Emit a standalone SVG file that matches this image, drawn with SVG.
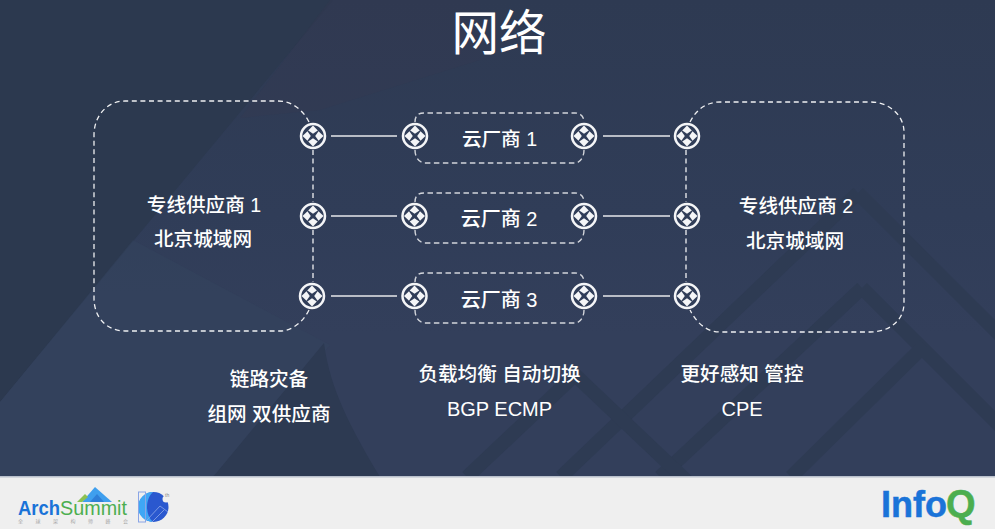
<svg xmlns="http://www.w3.org/2000/svg" width="995" height="529" viewBox="0 0 995 529">
<style>
.t{font-family:"Liberation Sans","Noto Sans CJK SC",sans-serif;fill:#fff;text-anchor:middle;font-size:19.6px;font-weight:500}
.b{fill:none;stroke:#fff;stroke-width:1.3;stroke-dasharray:5 3.6;stroke-opacity:.92}
.k{fill:none;stroke:#fff;stroke-width:1.4;stroke-dasharray:5.500 3.500;stroke-opacity:.78}
.c{fill:none;stroke:#fff;stroke-width:1.3;stroke-opacity:.88}
.bg{fill:none;stroke:#2e3b53;stroke-width:14}
.f{font-family:"Liberation Sans","Noto Sans CJK SC",sans-serif}
</style>
<defs>
<linearGradient id="g" x1="0" y1="0" x2="0" y2="1"><stop offset="0" stop-color="#2e3a52"/><stop offset=".45" stop-color="#303d58"/><stop offset=".7" stop-color="#333f5b"/><stop offset="1" stop-color="#333f5b"/></linearGradient>
<g id="r">
<circle r="12" fill="#303d58" stroke="#f4f5f7" stroke-width="2.500"/>
<g fill="#f4f5f7">
<path d="M0-10.500 4.800-5.500 2.500-4 0-2.200-2.500-4-4.800-5.500Z"/>
<path d="M0 10.500 4.800 5.500 2.500 4 0 2.200-2.500 4-4.800 5.500Z"/>
<path d="M-10.500 0-5.500-4.800-4-2.500-2.200 0-4 2.500-5.500 4.800Z"/>
<path d="M10.500 0 5.500-4.800 4-2.500 2.200 0 4 2.500 5.500 4.800Z"/>
</g>
</g>
</defs>
<rect width="995" height="477" fill="url(#g)"/>
<g id="background">
<path d="M0 0H333L0 402Z" fill="#2c394f"/>
<path d="M0 402 133 240 330 345 213 477H0Z" fill="#33445e" opacity=".5"/>
<path d="M330 0H480V60L320 110 240 118Z" fill="#373850" opacity=".25"/>
<path d="M324 343 213 477H380C352 430 330 390 324 343Z" fill="#2d3a52"/>
<path class="bg" d="M858 193 561 477M858 193 1000 335"/>
<path class="bg" d="M862 288 660 477M862 288 1000 426"/>
<path class="bg" d="M925 345 791 477"/>
<path class="bg" d="M467 477 575 375 690 484"/>
</g>
<g id="connectors">
<path class="c" d="M331 136H397M331 216H397M331 296H397M603 136H670M603 216H670M603 296H670"/>
<path class="b" d="M313 150V202M313 230V282M686 150V202M686 230V282"/>
</g>
<g id="provider-1">
<path class="b" d="M309 122C303 110 292 101 278 101H125C107 101 94 116 94 135V298C94 318 107 331 125 331H280C292 331 303 322 309 310"/>
<text class="t" x="204" y="212">专线供应商 1</text>
<text class="t" x="203" y="246">北京城域网</text>
</g>
<g id="provider-2">
<path class="b" d="M690 122C696 110 706 102 720 102H870C890 102 904 116 904 132V303C904 320 890 332 870 332H720C706 332 696 322 690 310"/>
<text class="t" x="796" y="213">专线供应商 2</text>
<text class="t" x="795" y="248">北京城域网</text>
</g>
<g id="cloud-1">
<path class="k" d="M415 122C415 116 418 113 424 113H575C580 113 584 116 584 122M415 150C415 157 419 163 425 163H575C580 163 584 157 584 150"/>
<text class="t" x="499.500" y="146">云厂商 1</text>
</g>
<g id="cloud-2">
<path class="k" d="M415 202C415 196 418 193 424 193H575C580 193 584 196 584 202M415 230C415 237 419 243 425 243H575C580 243 584 237 584 230"/>
<text class="t" x="499" y="226" style="font-size:20px">云厂商 2</text>
</g>
<g id="cloud-3">
<path class="k" d="M415 282C415 276 418 273 424 273H575C580 273 584 276 584 282M415 310C415 317 419 323 425 323H575C580 323 584 317 584 310"/>
<text class="t" x="499" y="307" style="font-size:20px">云厂商 3</text>
</g>
<g id="routers">
<use href="#r" x="313" y="136"/><use href="#r" x="313" y="216"/><use href="#r" x="312" y="296"/>
<use href="#r" x="415" y="136"/><use href="#r" x="414.500" y="216"/><use href="#r" x="414.500" y="296"/>
<use href="#r" x="584" y="136"/><use href="#r" x="584" y="216"/><use href="#r" x="584" y="296"/>
<use href="#r" x="687" y="136"/><use href="#r" x="687" y="216"/><use href="#r" x="687" y="296"/>
</g>
<text class="t" x="499" y="50" style="font-size:47.500px;font-weight:400">网络</text>
<g id="captions">
<text class="t" x="269" y="386">链路灾备</text>
<text class="t" x="269" y="421">组网 双供应商</text>
<text class="t" x="499.500" y="381">负载均衡 自动切换</text>
<text class="t" x="499.500" y="416" style="font-size:20px;font-weight:400">BGP ECMP</text>
<text class="t" x="742" y="381">更好感知 管控</text>
<text class="t" x="742" y="416" style="font-size:20px;font-weight:400">CPE</text>
</g>
<g id="footer">
<rect y="477" width="995" height="52" fill="#efefef"/>
<rect y="476" width="995" height="1.500" fill="#b9c0cc"/>
<path d="M82 502 95 487 112 502Z" fill="#3f9fee"/>
<path d="M90 502 97 494 104 502Z" fill="#2f7fd8"/>
<path d="M77 502 85 494 88 497 82 502Z" fill="#8cc152"/>
<text class="f" x="18" y="515" style="font-size:20px;font-weight:700" fill="#1a73d8" textLength="42" lengthAdjust="spacingAndGlyphs">Arch</text>
<text class="f" x="60" y="515" style="font-size:20px" fill="#4cae4f" textLength="67" lengthAdjust="spacingAndGlyphs">Summit</text>
<text class="f" x="18" y="522.500" style="font-size:5px" fill="#a8a8a8" textLength="110">全球架构师峰会</text>
<circle cx="153.500" cy="507" r="15" fill="#2a58cf"/>
<path d="M153 492A15 15 0 0 0 153 522C145 515 145 499 153 492Z" fill="#3fa7f5"/>
<circle cx="166" cy="499" r="3.500" fill="#efefef"/>
<path d="M147 520 160 506 168 512M152 522 164 510" fill="none" stroke="#8fa8e8" stroke-width=".8"/>
<rect x="138.500" y="492" width="7" height="30" fill="none" stroke="#8aa5e6"/>
<text class="f" x="165" y="497" style="font-size:5px" fill="#888">th</text>
<text class="f" x="881" y="517" style="font-size:36px;font-weight:700" fill="#1a73d8" stroke="#1a73d8" stroke-width=".5">Info</text>
<text class="f" x="946" y="517" style="font-size:38px;font-weight:700" fill="#4cae4f" stroke="#4cae4f" stroke-width=".5">Q</text>
</g>
</svg>
